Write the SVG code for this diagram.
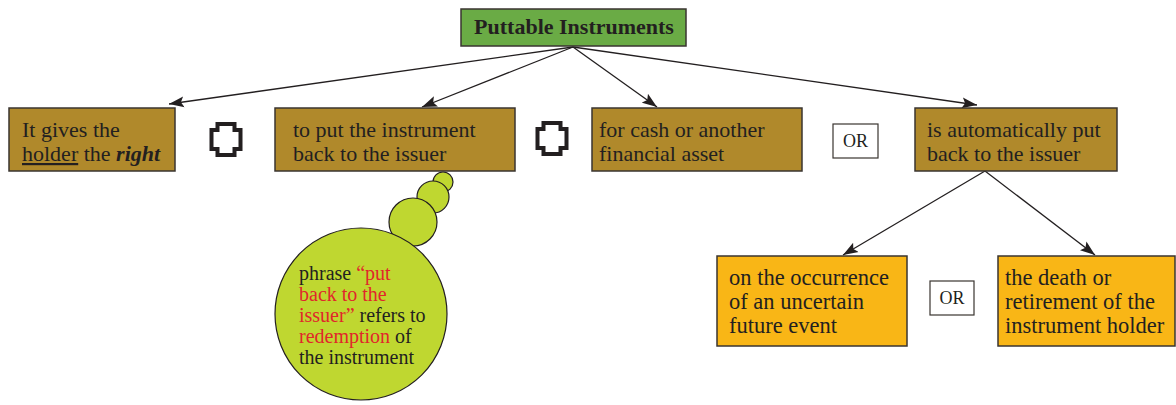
<svg xmlns="http://www.w3.org/2000/svg" xmlns:xlink="http://www.w3.org/1999/xlink" width="1176" height="405" viewBox="0 0 1176 405">
<style>
.t{font-family:'Liberation Serif','Times New Roman',serif;font-size:22px;fill:#231f20}
.title{font-weight:bold}
.s{font-size:20px}
.b{font-size:22.5px}
.or{font-family:'Liberation Serif','Times New Roman',serif;font-size:18px;fill:#231f20;text-anchor:middle}
.red{fill:#e1262b}
.brown{fill:#b0892b;stroke:#3a3530;stroke-width:1.5}
.orange{fill:#f9b616;stroke:#3a3530;stroke-width:1.5}
.green{fill:#6aab45;stroke:#3a3530;stroke-width:1.5}
.orbox{fill:#fff;stroke:#3a3530;stroke-width:1.2}
.bub{fill:#bfd730;stroke:#231f20;stroke-width:1.2}
.conn{stroke:#231f20;stroke-width:1.3;fill:none;marker-end:url(#arr)}
.cross{fill:#fff;stroke:#231f20;stroke-width:4}
</style>
<defs>
<marker id="arr" markerUnits="userSpaceOnUse" markerWidth="16" markerHeight="12" refX="15" refY="6" orient="auto">
<path d="M0,0.5 L15,6 L0,11.5 L3,6 z" fill="#231f20"/>
</marker>
<path id="crossShape" class="cross" d="M217.5,124 H234.5 V130 H240.5 V149 H234.5 V155 H217.5 V149 H211.5 V130 H217.5 Z"/>
</defs>
<g id="connectors">
<line class="conn" x1="573" y1="47" x2="169" y2="104"/>
<line class="conn" x1="573" y1="47" x2="422" y2="107"/>
<line class="conn" x1="573" y1="47" x2="657" y2="107"/>
<line class="conn" x1="573" y1="47" x2="977" y2="105"/>
<line class="conn" x1="985" y1="171" x2="843" y2="255"/>
<line class="conn" x1="985" y1="171" x2="1095" y2="255"/>
</g>
<g id="puttable">
<rect class="green" x="461" y="9" width="225" height="37"/>
<text class="t title" x="574" y="34" text-anchor="middle">Puttable Instruments</text>
</g>
<g id="holder">
<rect class="brown" x="9" y="108" width="166" height="63"/>
<text class="t" x="22" y="137">It gives the</text>
<text class="t" x="22" y="161"><tspan text-decoration="underline">holder</tspan> the <tspan font-weight="bold" font-style="italic">right</tspan></text>
</g>
<g id="and1"><use xlink:href="#crossShape"/></g>
<g id="putback">
<rect class="brown" x="275" y="108" width="240" height="63"/>
<text class="t" x="293" y="137">to put the instrument</text>
<text class="t" x="293" y="161">back to the issuer</text>
</g>
<g id="and2"><use xlink:href="#crossShape" transform="translate(326,-1)"/></g>
<g id="cash">
<rect class="brown" x="592" y="108" width="210" height="63"/>
<text class="t" x="599" y="137">for cash or another</text>
<text class="t" x="599" y="161">financial asset</text>
</g>
<g id="or1">
<rect class="orbox" x="833" y="124" width="45" height="34"/>
<text class="or" x="855.5" y="147">OR</text>
</g>
<g id="automatic">
<rect class="brown" x="915" y="108" width="202" height="63"/>
<text class="t" x="927" y="137">is automatically put</text>
<text class="t" x="927" y="161">back to the issuer</text>
</g>
<g id="note">
<circle class="bub" cx="443" cy="182" r="10"/>
<circle class="bub" cx="433" cy="197" r="16"/>
<circle class="bub" cx="413" cy="222" r="24"/>
<circle class="bub" cx="361" cy="314" r="86"/>
<text class="t s" x="299" y="280">phrase <tspan class="red">“put</tspan></text>
<text class="t s red" x="299" y="301">back to the</text>
<text class="t s" x="299" y="322"><tspan class="red">issuer”</tspan> refers to</text>
<text class="t s" x="299" y="343"><tspan class="red">redemption</tspan> of</text>
<text class="t s" x="299" y="364">the instrument</text>
</g>
<g id="event">
<rect class="orange" x="717" y="256" width="190" height="90"/>
<text class="t b" x="729" y="285">on the occurrence</text>
<text class="t b" x="729" y="309">of an uncertain</text>
<text class="t b" x="729" y="333">future event</text>
</g>
<g id="or2">
<rect class="orbox" x="930" y="281" width="44" height="34"/>
<text class="or" x="952" y="304">OR</text>
</g>
<g id="death">
<rect class="orange" x="998" y="256" width="177" height="90"/>
<text class="t b" x="1005" y="285">the death or</text>
<text class="t b" x="1005" y="309">retirement of the</text>
<text class="t b" x="1005" y="333">instrument holder</text>
</g>
</svg>
